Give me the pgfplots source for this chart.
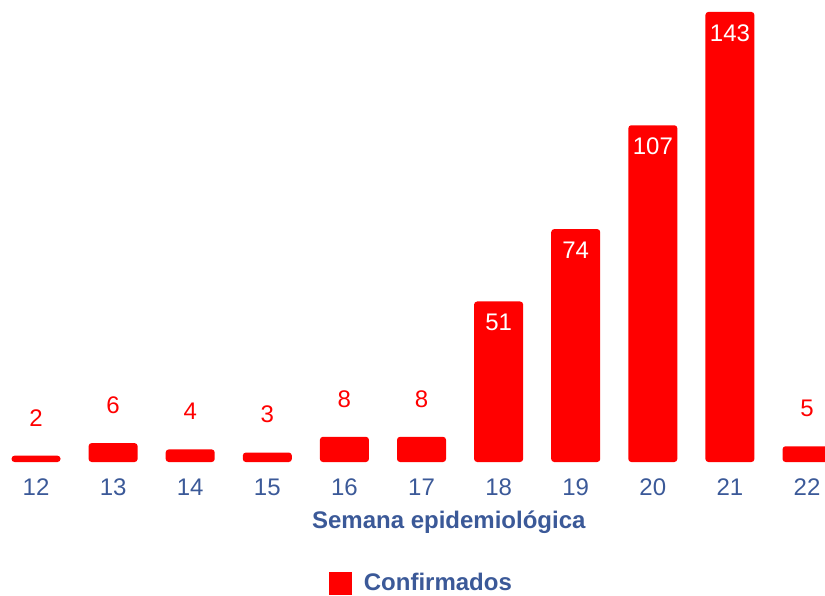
\documentclass[border=0pt]{standalone}
\usepackage{fontspec}
\setmainfont{Liberation Sans}
\usepackage{pgfplots}
\pgfplotsset{compat=1.18}
\definecolor{txtblue}{HTML}{3B5998}
\definecolor{barred}{HTML}{FF0000}
\begin{document}
\begin{tikzpicture}
\begin{axis}[
  scale only axis,
  width=412.5pt, height=231pt,
  xmin=-0.467, xmax=10.233,
  ymin=0, ymax=146.8,
  axis line style={draw=none},
  tick style={draw=none},
  clip=true,
  /pgf/number format/assume math mode=true,
  ybar, bar width=24.5pt, bar shift=0pt,
  xtick={0,1,2,3,4,5,6,7,8,9,10},
  xticklabels={12,13,14,15,16,17,18,19,20,21,22},
  ytick=\empty,
  major tick length=0pt,
  xticklabel style={font=\fontsize{12}{14}\selectfont, text=txtblue, anchor=center, yshift=-12.5pt},
  xlabel={Semana epidemiológica},
  every axis x label/.style={at={(axis description cs:0.544,0)}, anchor=center, yshift=-30pt, font=\fontsize{12}{14}\selectfont\bfseries, text=txtblue},
  legend style={at={(axis description cs:0.512,-0.262)}, anchor=center, draw=none, fill=none,
    font=\fontsize{12}{14}\selectfont\bfseries, text=txtblue},
  legend image code/.code={\fill[barred, sharp corners] (0pt,-5.75pt) rectangle (11.5pt,5.75pt);},
  legend cell align=left,
]
\addplot[fill=barred, draw=none, rounded corners=1.5pt,
  nodes near coords, point meta=y,
  every node near coord/.style={anchor=center, yshift=19pt, text=barred, font=\fontsize{12}{14}\selectfont}]
  coordinates {(0,2) (1,6) (2,4) (3,3) (4,8) (5,8) (10,5)};
\addlegendentry{\hspace{4pt}Confirmados}
\addplot[fill=barred, draw=none, rounded corners=1.5pt,
  nodes near coords, point meta=y,
  every node near coord/.style={anchor=center, yshift=-10.5pt, text=white, font=\fontsize{12}{14}\selectfont}]
  coordinates {(6,51) (7,74) (8,107) (9,143)};
\end{axis}
\pgfresetboundingbox
\path (current axis.north west) rectangle ([yshift=-66.5pt]current axis.south east);
\end{tikzpicture}
\end{document}
